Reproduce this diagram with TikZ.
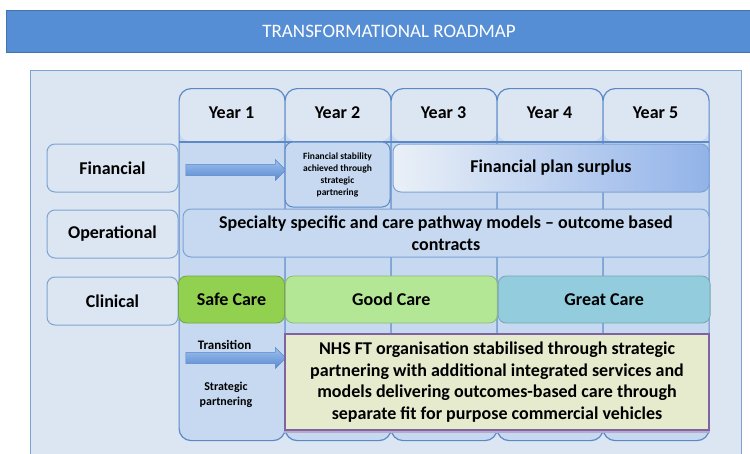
\documentclass[tikz,border=0pt]{standalone}
\usepackage{fontspec}
\setmainfont{Carlito}
\usepackage{tikz}
\usetikzlibrary{positioning, shapes.arrows}
\definecolor{rmtitle}{HTML}{558ED5}
\definecolor{rmpanel}{HTML}{DCE6F2}
\definecolor{rmbody}{HTML}{C6D9F1}
\definecolor{rmline}{HTML}{5B89C6}
\definecolor{rmedge}{HTML}{7EA3D3}
\definecolor{rmsafe}{HTML}{92D050}
\definecolor{rmgood}{HTML}{B4E795}
\definecolor{rmgreat}{HTML}{93CDDD}
\definecolor{rmnhs}{HTML}{E5EBCC}
\definecolor{rmpurple}{HTML}{8064A2}
\definecolor{rmarrowt}{HTML}{9DC0EE}
\definecolor{rmarrowb}{HTML}{5A8AD2}
\definecolor{rmsurplus}{HTML}{92B3E9}

\begin{document}
\begin{tikzpicture}[x=1pt, y=-1pt,
  yearcol/.style={draw=rmline, line width=1.2pt, fill=rmbody, rounded corners=12pt,
    minimum width=106pt, minimum height=352pt, anchor=north west, inner sep=0pt,
    path picture={
      \fill[rmpanel] (path picture bounding box.north west) rectangle ([yshift=-53pt]path picture bounding box.north east);
      \draw[rmline, line width=2pt] ([yshift=-53pt]path picture bounding box.north west) -- ([yshift=-53pt]path picture bounding box.north east);
    }},
  big/.style={font=\bfseries\fontsize{18}{22}\selectfont},
  rowlabel/.style={big, draw=rmedge, line width=1pt, fill=rmpanel, rounded corners=8pt,
    minimum width=131pt, minimum height=48pt},
  band/.style={big, draw=rmedge, line width=1pt, fill=#1, rounded corners=8pt,
    minimum height=48pt, inner sep=2pt, align=center},
  care/.style={big, draw=#1!80!black, line width=0.8pt, fill=#1, rounded corners=8pt,
    minimum height=47pt, inner sep=0pt},
  blockarrow/.style={single arrow, draw=rmline, line width=0.6pt, top color=rmarrowt, bottom color=rmarrowb,
    minimum height=100pt, inner xsep=0pt, inner ysep=5.3pt, single arrow head extend=4.8pt},
]
\useasboundingbox (0,0) rectangle (750,453);

\node[draw=rmtitle!80!black, fill=rmtitle, line width=0.8pt, minimum width=766pt, minimum height=42pt,
  text=white, font=\fontsize{19}{22}\selectfont] (title) at (389,31) {TRANSFORMATIONAL ROADMAP};

\node[draw=rmedge, line width=1.2pt, fill=rmpanel, minimum width=711pt, minimum height=400pt,
  anchor=north west, inner sep=0pt] (panel) at (30,70) {};

% year columns
\foreach \i in {1,...,5} {
  \node[yearcol] (col\i) at ({178.5+106*(\i-1)},88) {};
  \node[big] (year\i) at ({231.5+106*(\i-1)},112.5) {Year \i};
}

% row labels
\node[rowlabel] (fin) at (112.5,168) {Financial};
\node[rowlabel, below=17pt of fin] (ops) {Operational};
\node[rowlabel, below=18pt of ops] (clin) {Clinical};

% financial row
\node[blockarrow] (finarrow) at (233,170) {};
\node[draw=rmline, line width=1pt, fill=rmbody, rounded corners=8pt, minimum width=105pt, minimum height=65pt,
  inner sep=1pt, align=center, font=\bfseries\fontsize{9.5}{12}\selectfont] (stab) at (337.5,174.5)
  {Financial stability\\achieved through\\strategic\\partnering};
\node[band=white, left color=rmpanel!60!white, right color=rmsurplus, minimum width=316pt] (surplus) at (551,168)
  {Financial plan surplus};

% operational row
\node[band=rmbody, minimum width=526pt] (models) at (446,233)
  {Specialty specific and care pathway models -- outcome based\\contracts};

% clinical row
\node[care=rmsafe, minimum width=106pt] (safe) at (231.5,299.5) {Safe Care};
\node[care=rmgood, minimum width=212pt, right=0pt of safe] (good) {Good Care};
\node[care=rmgreat, minimum width=212pt, right=0pt of good] (great) {Great Care};

% transition
\node[blockarrow] (trarrow) at (233,358) {};
\node[font=\bfseries\fontsize{13}{15}\selectfont] (trans) at (224.5,345) {Transition};
\node[align=center, font=\bfseries\fontsize{12}{15}\selectfont] (partner) at (226,395) {Strategic\\partnering};
\node[draw=rmpurple, line width=1.2pt, fill=rmnhs, minimum width=424pt, minimum height=96pt, align=center,
  inner sep=2pt, font=\bfseries\fontsize{18}{21.5}\selectfont] (nhs) at (497,382)
  {NHS FT organisation stabilised through strategic\\partnering with additional integrated services and\\
   models delivering outcomes-based care through\\separate fit for purpose commercial vehicles};
\draw[rmpurple!55, line width=2pt] ([yshift=-1.5pt]nhs.south west) -- ([yshift=-1.5pt]nhs.south east);
\end{tikzpicture}
\end{document}
